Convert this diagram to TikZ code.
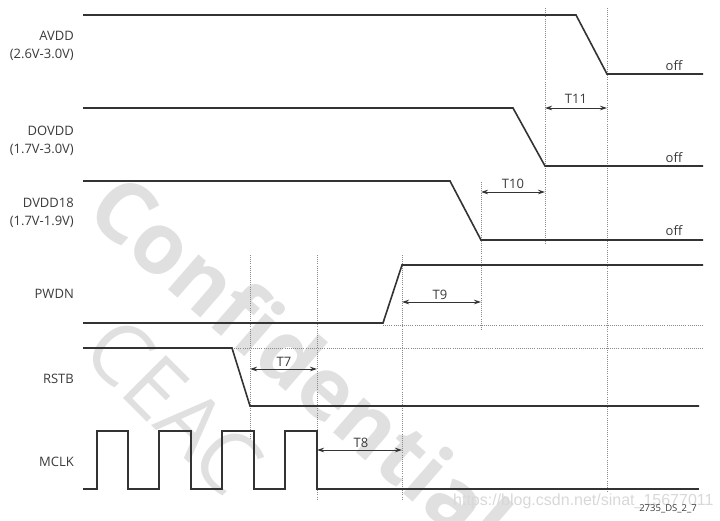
\documentclass[tikz,border=0pt]{standalone}
\usepackage{fontspec}
\setmainfont{Open Sans}
\newfontfamily\wmfont{Liberation Sans}
\usetikzlibrary{arrows.meta}
\definecolor{sig}{HTML}{333333}
\definecolor{txt}{HTML}{3A3A3A}
\definecolor{guide}{HTML}{8A8A8A}
\definecolor{wm}{HTML}{E0E0E0}
\definecolor{wmb}{HTML}{D8D8D8}
\begin{document}
\begin{tikzpicture}[x=1pt,y=-1pt,
  signal/.style={draw=sig, line width=1.6pt, line join=miter},
  guideline/.style={draw=guide, line width=0.8pt, dash pattern=on 0.8pt off 1.3pt},
  span/.style={draw=sig, line width=0.8pt, {Stealth[length=7pt,width=4.5pt]}-{Stealth[length=7pt,width=4.5pt]}},
  lab/.style={font=\fontsize{13}{17.5}\selectfont, text=txt, inner sep=0pt, align=right},
  tlab/.style={font=\fontsize{13}{15}\selectfont, text=txt, inner sep=0pt},
  wmark/.style={text=wm, inner sep=0pt, anchor=west},
]
\useasboundingbox (0,0) rectangle (720,520);
% watermarks
\node[wmark, font=\bfseries\fontsize{85}{85}\selectfont, rotate=-41] (wm1) at (104,191) {Confidential};
\node[wmark, font=\fontsize{85}{85}\selectfont, rotate=-45] (wm2) at (101,333) {CEAC};
\node[font=\wmfont\fontsize{16}{16}\selectfont, text=wmb, anchor=base west, inner sep=0pt] (csdn) at (453,505) {https://blog.csdn.net/sinat\_15677011};

% guide lines
\draw[guideline] (250,255) -- (250,438);
\draw[guideline] (317,255) -- (317,499);
\draw[guideline] (402,255) -- (402,500);
\draw[guideline] (481,182) -- (481,330);
\draw[guideline] (545,8) -- (545,245);
\draw[guideline] (607,8) -- (607,492);
\draw[guideline] (383,325) -- (703,325);
\draw[guideline] (232,348) -- (703,348);

% signals
\draw[signal] (83,15) -- (576,15) -- (607,74) -- (703,74);
\draw[signal] (83,108) -- (513,108) -- (545,166) -- (703,166);
\draw[signal] (83,181) -- (450,181) -- (481,240) -- (703,240);
\draw[signal] (83,323) -- (383,323) -- (402,265) -- (703,265);
\draw[signal] (83,348) -- (232,348) -- (250,406) -- (699,406);
\draw[signal] (83,489) -- (97,489) -- (97,431) -- (128,431) -- (128,489)
  -- (159,489) -- (159,431) -- (191,431) -- (191,489)
  -- (222,489) -- (222,431) -- (254,431) -- (254,489)
  -- (285,489) -- (285,431) -- (317,431) -- (317,489) -- (699,489);

% signal labels
\node[lab, anchor=north east] (avdd) at (74,31) {AVDD\\(2.6V-3.0V)};
\node[lab, anchor=north east] (dovdd) at (74,126) {DOVDD\\(1.7V-3.0V)};
\node[lab, anchor=north east] (dvdd) at (74,198) {DVDD18\\(1.7V-1.9V)};
\node[lab, anchor=east] (pwdn) at (74,294) {PWDN};
\node[lab, anchor=east] (rstb) at (74,378.5) {RSTB};
\node[lab, anchor=east] (mclk) at (74,462) {MCLK};

\node[tlab] (off1) at (674,66) {off};
\node[tlab] (off2) at (674,157.5) {off};
\node[tlab] (off3) at (674,230.5) {off};

% timing spans
\coordinate (t7a) at (250,369); \coordinate (t7b) at (317,369);
\coordinate (t8a) at (317,450); \coordinate (t8b) at (402,450);
\coordinate (t9a) at (402,302); \coordinate (t9b) at (481,302);
\coordinate (t10a) at (481,192); \coordinate (t10b) at (545,192);
\coordinate (t11a) at (545,108); \coordinate (t11b) at (607,108);
\draw[span] (t7a) -- (t7b);
\draw[span] (t8a) -- (t8b);
\draw[span] (t9a) -- (t9b);
\draw[span] (t10a) -- (t10b);
\draw[span] (t11a) -- (t11b);
\node[tlab] (T7) at (284,362) {T7};
\node[tlab] (T8) at (361,443) {T8};
\node[tlab] (T9) at (440,295) {T9};
\node[tlab] (T10) at (513,184) {T10};
\node[tlab] (T11) at (576,99) {T11};

\node[font=\fontsize{9.5}{10}\selectfont, text=txt, anchor=base east, inner sep=0pt] (code) at (697,511) {2735\_DS\_2\_7};
\end{tikzpicture}
\end{document}
